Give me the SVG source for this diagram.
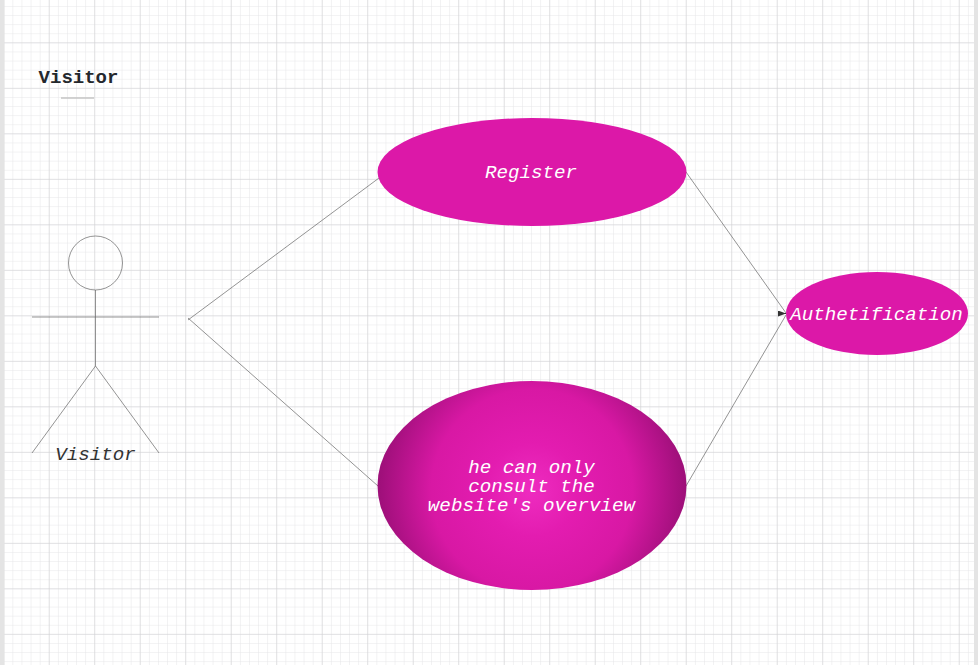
<svg xmlns="http://www.w3.org/2000/svg" width="978" height="665" viewBox="0 0 978 665">
<style>
.ln{fill:none;stroke:#666;stroke-width:.7}
.lbl{font-family:"Liberation Mono",monospace;font-style:italic;font-size:19.2px;fill:#fff;text-anchor:middle}
</style>
<defs>
<pattern id="minor" x="4.2" y="-2.2" width="9.1" height="9.1" patternUnits="userSpaceOnUse"><path d="M9.1 0V9.1M0 9.1H9.1" fill="none" stroke="#e6e6e8" stroke-width="1"/></pattern>
<pattern id="major" x="4.2" y="-2.2" width="45.5" height="45.5" patternUnits="userSpaceOnUse"><path d="M45.500 0V45.500M0 45.500H45.500" fill="none" stroke="#d0d0d2" stroke-width="1"/></pattern>
<radialGradient id="rg" gradientUnits="userSpaceOnUse" cx="532" cy="490" r="155"><stop offset="0" stop-color="#ee2cc0"/><stop offset=".3" stop-color="#e31cb0"/><stop offset=".65" stop-color="#d818a4"/><stop offset="1" stop-color="#9c0f78"/></radialGradient>
<marker id="arr" markerWidth="9" markerHeight="6" refX="8" refY="3" orient="auto" markerUnits="userSpaceOnUse"><path d="M0 0L8 3L0 6Z" fill="#333"/></marker>
</defs>
<rect width="978" height="665" fill="#fff"/>
<rect width="978" height="665" fill="url(#minor)"/>
<rect width="978" height="665" fill="url(#major)"/>
<rect x="0" y="0" width="4.500" height="665" fill="#e4e4e4"/>
<rect x="974" y="0" width="4" height="665" fill="#e4e4e4"/>
<g id="title">
<text x="78.500" y="83" font-family="Liberation Mono,monospace" font-weight="bold" font-size="19" fill="#24282d" text-anchor="middle">Visitor</text>
<line x1="61" y1="98" x2="94" y2="98" stroke="#c4c4c4" stroke-width="1.500"/>
</g>
<g id="connectors">
<line class="ln" x1="379" y1="178" x2="188" y2="320"/>
<line class="ln" x1="378" y1="486" x2="188" y2="318"/>
<line class="ln" x1="686" y1="172" x2="786" y2="313"/>
<line class="ln" x1="686" y1="486" x2="786" y2="315"/>
<line x1="778" y1="313.500" x2="786" y2="313.500" stroke="#333" stroke-width="1" marker-end="url(#arr)"/>
</g>
<g id="actor">
<circle class="ln" cx="95.500" cy="263" r="27"/>
<path class="ln" d="M95.500 290V366M32 317H159M32 453L95.500 366L159 453"/>
<text x="95.500" y="459.500" class="lbl" style="fill:#333">Visitor</text>
</g>
<g id="register">
<ellipse cx="532" cy="172" rx="154.500" ry="54" fill="#dc18a8"/>
<text x="531" y="177.500" class="lbl">Register</text>
</g>
<g id="overview">
<ellipse cx="532" cy="485.500" rx="154.500" ry="104.500" fill="url(#rg)"/>
<text class="lbl"><tspan x="531.500" y="472.500">he can only</tspan><tspan x="531.500" y="491.500">consult the</tspan><tspan x="531.500" y="510.500">website's overview</tspan></text>
</g>
<g id="auth">
<ellipse cx="877" cy="313.500" rx="91" ry="41.500" fill="#dc18a8"/>
<text x="876.500" y="319.500" class="lbl">Authetification</text>
</g>
</svg>
